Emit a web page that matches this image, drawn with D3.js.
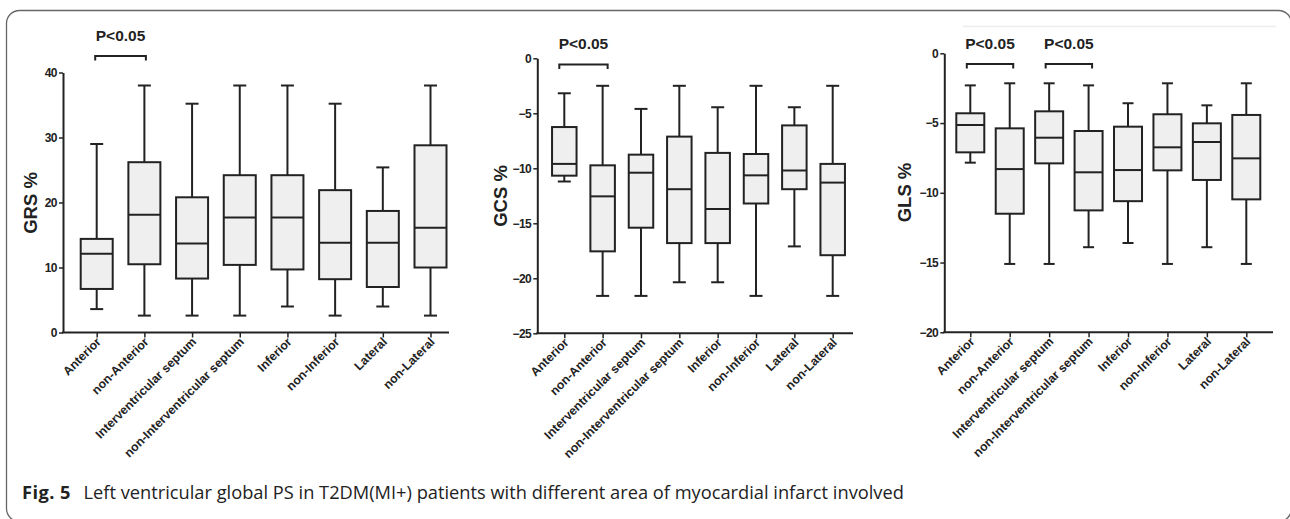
<!DOCTYPE html>
<html>
<head>
<meta charset="utf-8">
<script src="https://cdn.jsdelivr.net/npm/d3@7"></script>
<style>
  html, body { margin: 0; padding: 0; background: #fff; }
  svg { display: block; }
  .tick text { font-family: "Liberation Sans", Arial, sans-serif; font-weight: bold; fill: #222; }
</style>
</head>
<body>
<svg id="chart" width="1290" height="519"></svg>
<script>
// Kategorien (gleich fuer alle drei Diagramme)
const categories = ["Anterior", "non-Anterior", "Interventricular septum", "non-Interventricular septum",
  "Inferior", "non-Inferior", "Lateral", "non-Lateral"];

// Boxplot-Werte je Kategorie: [min, Q1, Median, Q3, max]
const grsValues = [
  [3.6, 6.7, 12.1, 14.4, 29.0],
  [2.6, 10.5, 18.1, 26.2, 38.0],
  [2.6, 8.3, 13.7, 20.8, 35.2],
  [2.6, 10.4, 17.7, 24.2, 38.0],
  [4.0, 9.7, 17.7, 24.2, 38.0],
  [2.6, 8.2, 13.8, 21.9, 35.2],
  [4.0, 7.0, 13.8, 18.7, 25.4],
  [2.6, 10.0, 16.1, 28.8, 38.0]
];
const gcsValues = [
  [-11.2, -10.67, -9.6, -6.25, -3.18],
  [-21.6, -17.55, -12.55, -9.73, -2.5],
  [-21.6, -15.4, -10.4, -8.76, -4.6],
  [-20.36, -16.8, -11.9, -7.12, -2.5],
  [-20.36, -16.8, -13.7, -8.6, -4.45],
  [-21.6, -13.2, -10.64, -8.7, -2.5],
  [-17.1, -11.9, -10.2, -6.1, -4.45],
  [-21.6, -17.9, -11.3, -9.6, -2.5]
];
const glsValues = [
  [-7.84, -7.1, -5.14, -4.3, -2.3],
  [-15.1, -11.5, -8.3, -5.38, -2.15],
  [-15.1, -7.89, -6.05, -4.16, -2.15],
  [-13.9, -11.26, -8.53, -5.57, -2.3],
  [-13.6, -10.6, -8.37, -5.26, -3.58],
  [-15.1, -8.39, -6.74, -4.37, -2.15],
  [-13.9, -9.08, -6.36, -5.02, -3.73],
  [-15.1, -10.47, -7.53, -4.42, -2.15]
];

// Achsen und Signifikanz-Markierungen
const grsTicks = [0, 10, 20, 30, 40];
const gcsTicks = [-25, -20, -15, -10, -5, 0];
const glsTicks = [-20, -15, -10, -5, 0];
const grsPairs = [["Anterior", "non-Anterior"]];
const gcsPairs = [["Anterior", "non-Anterior"]];
const glsPairs = [["Anterior", "non-Anterior"], ["Interventricular septum", "non-Interventricular septum"]];
const pLabel = "P<0.05";
const captionBold = "Fig. 5";
const captionText = "Left ventricular global PS in T2DM(MI+) patients with different area of myocardial infarct involved";

const svg = d3.select("#chart");
const ink = "#222";

// Rahmen um die Abbildung
svg.append("rect")
  .attr("x", 6.5).attr("y", 10.5)
  .attr("width", 1285).attr("height", 511)
  .attr("rx", 13)
  .attr("fill", "none")
  .attr("stroke", "#666")
  .attr("stroke-width", 1.3);

// schwache Linie oben im dritten Diagramm
svg.append("line")
  .attr("x1", 963).attr("x2", 1276)
  .attr("y1", 26.5).attr("y2", 26.5)
  .attr("stroke", "#ececec").attr("stroke-width", 1.5);

// Diagramm zeichnen
function drawPanel(cfg) {
  const y = d3.scaleLinear().domain(cfg.domain).range([cfg.bottom, cfg.top]);
  const x = d3.scalePoint().domain(categories).range([cfg.firstX, cfg.lastX]);
  const g = svg.append("g");

  // y-Achse
  const yAxis = g.append("g")
    .attr("transform", "translate(" + cfg.axisX + ",0)")
    .call(d3.axisLeft(y).tickValues(cfg.ticks).tickSize(4).tickSizeOuter(0).tickPadding(2));
  yAxis.select(".domain").attr("stroke", ink).attr("stroke-width", 2);
  yAxis.selectAll(".tick line").attr("stroke", ink).attr("stroke-width", 1.5);
  yAxis.selectAll(".tick text").style("font-size", "12px").attr("letter-spacing", "-0.5");

  // x-Achse
  const xAxis = g.append("g")
    .attr("transform", "translate(0," + cfg.bottom + ")")
    .call(d3.axisBottom(x).tickSize(5).tickFormat(""));
  xAxis.select(".domain").remove();
  xAxis.selectAll(".tick line").attr("stroke", ink).attr("stroke-width", 1.5);
  g.append("line")
    .attr("x1", cfg.axisX - 1).attr("x2", cfg.axisEnd)
    .attr("y1", cfg.bottom).attr("y2", cfg.bottom)
    .attr("stroke", ink).attr("stroke-width", 2);

  g.selectAll(".xlabel")
    .data(categories)
    .join("text")
    .attr("class", "xlabel")
    .attr("transform", d => "translate(" + (x(d) + 5) + "," + (cfg.bottom + 10) + ") rotate(-45)")
    .attr("text-anchor", "end")
    .style("font-family", "'Liberation Sans', Arial, sans-serif")
    .style("font-weight", "bold")
    .style("font-size", "12.3px")
    .attr("fill", ink)
    .text(d => d);

  // Beschriftung y-Achse
  g.append("text")
    .attr("transform", "translate(" + cfg.labelX + "," + cfg.labelY + ") rotate(-90)")
    .attr("text-anchor", "middle")
    .attr("dominant-baseline", "central")
    .style("font-family", "'Liberation Sans', Arial, sans-serif")
    .style("font-weight", "bold")
    .style("font-size", "18.5px")
    .attr("fill", ink)
    .text(cfg.label);

  // Boxplots
  const boxes = g.selectAll(".box")
    .data(cfg.values.map((v, i) => ({ cat: categories[i], v: v })))
    .join("g")
    .attr("class", "box");

  boxes.append("line")
    .attr("x1", d => x(d.cat)).attr("x2", d => x(d.cat))
    .attr("y1", d => y(d.v[0])).attr("y2", d => y(d.v[4]))
    .attr("stroke", ink).attr("stroke-width", 2);
  boxes.append("rect")
    .attr("x", d => x(d.cat) - cfg.boxW / 2)
    .attr("width", cfg.boxW)
    .attr("y", d => y(d.v[3]))
    .attr("height", d => y(d.v[1]) - y(d.v[3]))
    .attr("fill", "#efefef")
    .attr("stroke", ink).attr("stroke-width", 2);
  boxes.append("line")
    .attr("x1", d => x(d.cat) - cfg.boxW / 2).attr("x2", d => x(d.cat) + cfg.boxW / 2)
    .attr("y1", d => y(d.v[2])).attr("y2", d => y(d.v[2]))
    .attr("stroke", ink).attr("stroke-width", 2);
  [0, 4].forEach(k => {
    boxes.append("line")
      .attr("x1", d => x(d.cat) - cfg.capW / 2).attr("x2", d => x(d.cat) + cfg.capW / 2)
      .attr("y1", d => y(d.v[k])).attr("y2", d => y(d.v[k]))
      .attr("stroke", ink).attr("stroke-width", 2);
  });

  // Signifikanz-Klammern
  cfg.pairs.forEach(p => {
    const x1 = x(p[0]) - cfg.bracketPad;
    const x2 = x(p[1]) + cfg.bracketPad;
    g.append("path")
      .attr("d", "M" + x1 + "," + (cfg.bracketY + 4.5) + "V" + cfg.bracketY + "H" + x2 + "V" + (cfg.bracketY + 4.5))
      .attr("fill", "none")
      .attr("stroke", ink).attr("stroke-width", 2);
    g.append("text")
      .attr("x", (x1 + x2) / 2)
      .attr("y", cfg.pY)
      .attr("text-anchor", "middle")
      .style("font-family", "'Liberation Sans', Arial, sans-serif")
      .style("font-weight", "bold")
      .style("font-size", "15.5px")
      .attr("fill", ink)
      .text(pLabel);
  });
}

drawPanel({
  label: "GRS %", values: grsValues, ticks: grsTicks, domain: [0, 40], pairs: grsPairs,
  axisX: 63, axisEnd: 449, firstX: 96.7, lastX: 430.5, top: 72.5, bottom: 332.5,
  boxW: 32, capW: 13, labelX: 30, labelY: 203, bracketY: 56, bracketPad: 1.5, pY: 40.7
});
drawPanel({
  label: "GCS %", values: gcsValues, ticks: gcsTicks, domain: [-25, 0], pairs: gcsPairs,
  axisX: 537.3, axisEnd: 853, firstX: 564.3, lastX: 832.7, top: 58.3, bottom: 333.3,
  boxW: 24.5, capW: 13, labelX: 500.5, labelY: 196, bracketY: 64.5, bracketPad: 5, pY: 49.3
});
drawPanel({
  label: "GLS %", values: glsValues, ticks: glsTicks, domain: [-20, 0], pairs: glsPairs,
  axisX: 944.3, axisEnd: 1273, firstX: 970.3, lastX: 1246.3, top: 53.3, bottom: 332.3,
  boxW: 28, capW: 11, labelX: 904.5, labelY: 192.5, bracketY: 64, bracketPad: 3.5, pY: 49.3
});

// Bildunterschrift
const cap = svg.append("text")
  .attr("x", 22).attr("y", 498.5)
  .style("font-family", "'Open Sans', 'Noto Sans', sans-serif")
  .style("font-size", "15px")
  .attr("fill", ink);
const bold = cap.append("tspan").style("font-weight", "bold").text(captionBold);
const rest = cap.append("tspan").attr("x", 83.5).text(captionText);
// Schriftgroesse so anpassen, dass die Breite zur Vorlage passt
const len = rest.node().getComputedTextLength();
const capSize = 15 * 821 / len;
rest.style("font-size", capSize + "px");
bold.style("font-size", capSize + "px");
const boldLen = bold.node().getComputedTextLength();
bold.attr("letter-spacing", Math.max(0, (49 - boldLen) / 6));
</script>
</body>
</html>
